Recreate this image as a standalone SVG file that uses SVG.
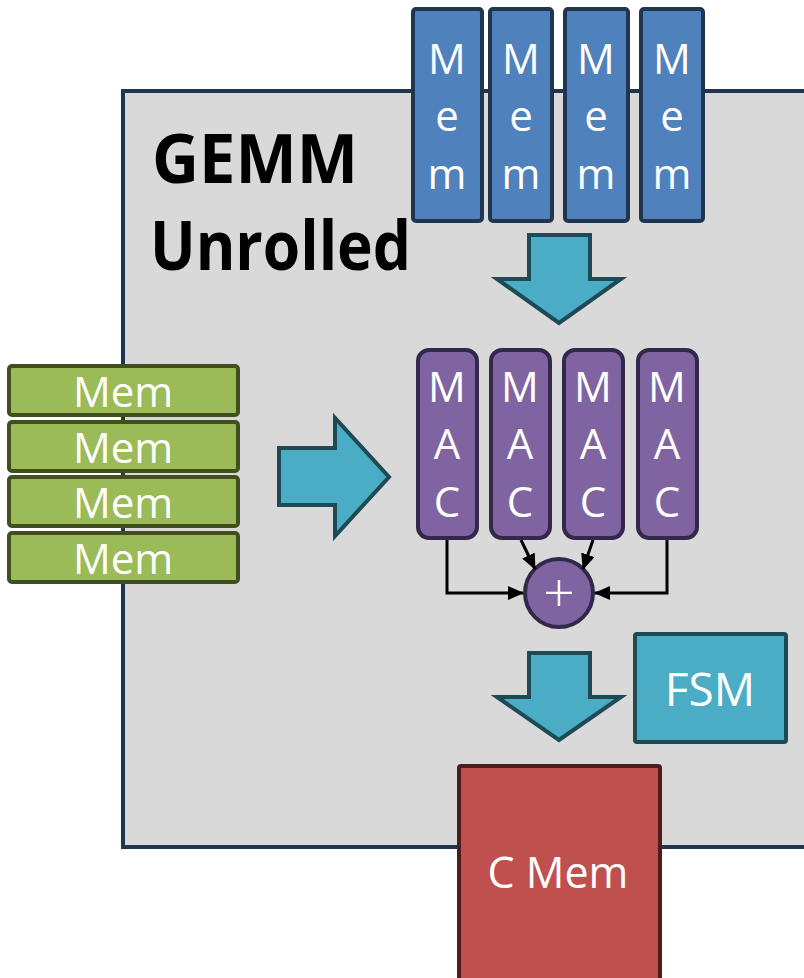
<svg xmlns="http://www.w3.org/2000/svg" width="804" height="978" viewBox="0 0 804 978">
<style>
text{font-family:"Open Sans","Noto Sans","Liberation Sans",sans-serif;fill:#fff;text-anchor:middle}
.blue{fill:#4f81bd;stroke:#1f3550;stroke-width:4}
.green{fill:#9bbb59;stroke:#414f1f;stroke-width:4}
.mac{fill:#8064a2;stroke:#33284a;stroke-width:4}
.teal{fill:#4bacc6;stroke:#1d4a55;stroke-width:4}
.red{fill:#c0504d;stroke:#4f1c1c;stroke-width:4}
.t38{font-size:42px}
.t40{font-size:42px}
.wire{fill:none;stroke:#000;stroke-width:3}
</style>
<defs>
<marker id="ah" viewBox="0 0 16 14" refX="15" refY="7" markerWidth="16" markerHeight="14" markerUnits="userSpaceOnUse" orient="auto">
<path d="M0,0 L16,7 L0,14 z" fill="#000"/>
</marker>
</defs>
<rect width="804" height="978" fill="#fff"/>
<g id="gemm">
<rect x="123" y="91" width="700" height="756" fill="#d9d9d9" stroke="#1f3550" stroke-width="4"/>
<text x="152" y="183" style="fill:#000;font-weight:bold;font-size:68px;text-anchor:start" textLength="206" lengthAdjust="spacingAndGlyphs">GEMM</text>
<text x="150" y="270" style="fill:#000;font-weight:bold;font-size:68px;text-anchor:start" textLength="261" lengthAdjust="spacingAndGlyphs">Unrolled</text>
</g>
<g id="memTop1"><rect class="blue" x="413" y="9" width="69" height="212" rx="3"/><text class="t38" x="447" y="74">M</text><text class="t38" x="447" y="131">e</text><text class="t38" x="447" y="189">m</text></g>
<g id="memTop2"><rect class="blue" x="490" y="9" width="62" height="212" rx="3"/><text class="t38" x="521" y="74">M</text><text class="t38" x="521" y="131">e</text><text class="t38" x="521" y="189">m</text></g>
<g id="memTop3"><rect class="blue" x="565" y="9" width="63" height="212" rx="3"/><text class="t38" x="596" y="74">M</text><text class="t38" x="596" y="131">e</text><text class="t38" x="596" y="189">m</text></g>
<g id="memTop4"><rect class="blue" x="641" y="9" width="62" height="212" rx="3"/><text class="t38" x="672" y="74">M</text><text class="t38" x="672" y="131">e</text><text class="t38" x="672" y="189">m</text></g>
<g id="memLeft1"><rect class="green" x="9" y="366" width="229" height="49" rx="3"/><text class="t40" x="123" y="407">Mem</text></g>
<g id="memLeft2"><rect class="green" x="9" y="422" width="229" height="49" rx="3"/><text class="t40" x="123" y="463">Mem</text></g>
<g id="memLeft3"><rect class="green" x="9" y="477" width="229" height="49" rx="3"/><text class="t40" x="123" y="518">Mem</text></g>
<g id="memLeft4"><rect class="green" x="9" y="533" width="229" height="49" rx="3"/><text class="t40" x="123" y="574">Mem</text></g>
<g id="arrowTop"><path class="teal" d="M529,235 L590,235 L590,279 L621,279 L559,323 L497,279 L529,279 Z"/></g>
<g id="arrowLeft"><path class="teal" d="M279,448 L335,448 L335,418 L389,477 L335,536 L335,505 L279,505 Z"/></g>
<g id="arrowBottom"><path class="teal" d="M529,653 L590,653 L590,697 L621,697 L559,740 L497,697 L529,697 Z"/></g>
<g id="mac1"><rect class="mac" x="418" y="350" width="59" height="188" rx="11"/><text class="t38" x="447" y="402">M</text><text class="t38" x="447" y="459">A</text><text class="t38" x="447" y="517">C</text></g>
<g id="mac2"><rect class="mac" x="491" y="350" width="59" height="188" rx="11"/><text class="t38" x="520" y="402">M</text><text class="t38" x="520" y="459">A</text><text class="t38" x="520" y="517">C</text></g>
<g id="mac3"><rect class="mac" x="564" y="350" width="59" height="188" rx="11"/><text class="t38" x="593" y="402">M</text><text class="t38" x="593" y="459">A</text><text class="t38" x="593" y="517">C</text></g>
<g id="mac4"><rect class="mac" x="638" y="350" width="59" height="188" rx="11"/><text class="t38" x="667" y="402">M</text><text class="t38" x="667" y="459">A</text><text class="t38" x="667" y="517">C</text></g>
<g id="adder"><circle class="mac" cx="559" cy="593" r="34"/><text x="559" y="612" style="font-size:56px;font-weight:300">+</text></g>
<g id="connectors">
<path class="wire" d="M447,540 L447,593 L523,593" marker-end="url(#ah)"/>
<path class="wire" d="M667,540 L667,593 L595,593" marker-end="url(#ah)"/>
<path class="wire" d="M521,540 L535,569" marker-end="url(#ah)"/>
<path class="wire" d="M593,540 L583,569" marker-end="url(#ah)"/>
</g>
<g id="fsm"><rect class="teal" x="635" y="634" width="151" height="108" rx="2"/><text x="710" y="706" style="font-size:46px">FSM</text></g>
<g id="cmem"><rect class="red" x="459" y="766" width="201" height="220" rx="2"/><text x="558" y="888" style="font-size:43px">C Mem</text></g>
</svg>
